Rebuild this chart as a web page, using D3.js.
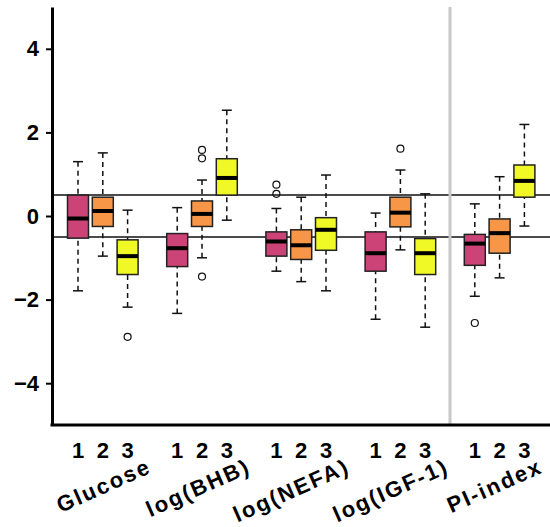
<!DOCTYPE html>
<html>
<head>
<meta charset="utf-8">
<script src="https://cdn.jsdelivr.net/npm/d3@7"></script>
<style>
  body { margin: 0; background: #fff; }
  text { font-family: "Liberation Sans", Arial, sans-serif; font-weight: bold; }
</style>
</head>
<body>
<svg class="canvas"></svg>
<script>
// group names and the 3 levels in each
var groups = ["Glucose", "log(BHB)", "log(NEFA)", "log(IGF-1)", "PI-index"];
var levels = ["1", "2", "3"];
// box position on the x axis (gaps between groups)
var positions = [1, 2, 3, 5, 6, 7, 9, 10, 11, 13, 14, 15, 17, 18, 19];

// stats, one value per box, in order of positions
var whiskerLow  = [-1.79, -0.96, -2.18, -2.33, -1.00, -0.10, -1.32, -1.57, -1.79, -2.47, -0.81, -2.66, -1.92, -1.48, -0.24];
var boxLow      = [-0.53, -0.25, -1.40, -1.21, -0.25,  0.50, -0.96, -1.04, -0.82, -1.32, -0.26, -1.40, -1.18, -0.89,  0.45];
var medians     = [-0.06,  0.12, -0.96, -0.77,  0.05,  0.91, -0.61, -0.70, -0.33, -0.89,  0.08, -0.89, -0.66, -0.41,  0.84];
var boxHigh     = [ 0.50,  0.45, -0.57, -0.42,  0.36,  1.37, -0.38, -0.33, -0.04, -0.38,  0.45, -0.54, -0.44, -0.07,  1.22];
var whiskerHigh = [ 1.30,  1.51,  0.14,  0.20,  0.86,  2.53,  0.18,  0.45,  0.98,  0.07,  1.10,  0.53,  0.29,  0.94,  2.19];
// outliers: [box index, value]
var outliers = [[2, -2.89], [4, 1.58], [4, 1.38], [4, -1.45], [6, 0.75], [6, 0.53], [10, 1.61], [12, -2.56]];

var refLines = [0.5, -0.5];
var yTicks = [-4, -2, 0, 2, 4];
var colors = ["#cc4477", "#f79646", "#f0f826"];

var width = 550, height = 527;

var svg = d3.select(".canvas").attr("width", width).attr("height", height);

var x = d3.scaleLinear().domain([1, 19]).range([78, 524.4]);
var y = d3.scaleLinear().domain([-5, 5]).range([425, 7]);
var left = 52;
var boxW = 21, capW = 10;

// reference lines
svg.selectAll(".ref")
  .data(refLines)
  .enter()
  .append("line")
  .attr("x1", left).attr("x2", width)
  .attr("y1", function(d) { return y(d); })
  .attr("y2", function(d) { return y(d); })
  .attr("stroke", "#111").attr("stroke-width", 1.5);

// grey divider before PI-index
svg.append("line")
  .attr("x1", x(16)).attr("x2", x(16))
  .attr("y1", y(5)).attr("y2", y(-5))
  .attr("stroke", "#c8c8c8").attr("stroke-width", 3);

var boxes = svg.selectAll(".box")
  .data(positions)
  .enter()
  .append("g")
  .attr("class", "box");

// dashed whiskers
boxes.append("line")
  .attr("x1", function(d) { return x(d); })
  .attr("x2", function(d) { return x(d); })
  .attr("y1", function(d, i) { return y(whiskerLow[i]); })
  .attr("y2", function(d, i) { return y(boxLow[i]); })
  .attr("stroke", "#111").attr("stroke-width", 1.5).attr("stroke-dasharray", "5,4");
boxes.append("line")
  .attr("x1", function(d) { return x(d); })
  .attr("x2", function(d) { return x(d); })
  .attr("y1", function(d, i) { return y(whiskerHigh[i]); })
  .attr("y2", function(d, i) { return y(boxHigh[i]); })
  .attr("stroke", "#111").attr("stroke-width", 1.5).attr("stroke-dasharray", "5,4");

// caps
boxes.append("line")
  .attr("x1", function(d) { return x(d) - capW / 2; })
  .attr("x2", function(d) { return x(d) + capW / 2; })
  .attr("y1", function(d, i) { return y(whiskerLow[i]); })
  .attr("y2", function(d, i) { return y(whiskerLow[i]); })
  .attr("stroke", "#111").attr("stroke-width", 1.5);
boxes.append("line")
  .attr("x1", function(d) { return x(d) - capW / 2; })
  .attr("x2", function(d) { return x(d) + capW / 2; })
  .attr("y1", function(d, i) { return y(whiskerHigh[i]); })
  .attr("y2", function(d, i) { return y(whiskerHigh[i]); })
  .attr("stroke", "#111").attr("stroke-width", 1.5);

boxes.append("rect")
  .attr("x", function(d) { return x(d) - boxW / 2; })
  .attr("width", boxW)
  .attr("y", function(d, i) { return y(boxHigh[i]); })
  .attr("height", function(d, i) { return y(boxLow[i]) - y(boxHigh[i]); })
  .attr("fill", function(d, i) { return colors[i % 3]; })
  .attr("stroke", "#222").attr("stroke-width", 1.5);

boxes.append("line")
  .attr("x1", function(d) { return x(d) - boxW / 2; })
  .attr("x2", function(d) { return x(d) + boxW / 2; })
  .attr("y1", function(d, i) { return y(medians[i]); })
  .attr("y2", function(d, i) { return y(medians[i]); })
  .attr("stroke", "#000").attr("stroke-width", 4);

svg.selectAll(".outlier")
  .data(outliers)
  .enter()
  .append("circle")
  .attr("cx", function(d) { return x(positions[d[0]]); })
  .attr("cy", function(d) { return y(d[1]); })
  .attr("r", 3.5)
  .attr("fill", "none").attr("stroke", "#111").attr("stroke-width", 1.2);

// y axis
var yAxis = d3.axisLeft(y).tickValues(yTicks).tickSize(6).tickSizeOuter(0).tickPadding(7);
var ya = svg.append("g")
  .attr("transform", "translate(" + left + ",0)")
  .call(yAxis);
ya.select(".domain").attr("stroke-width", 3);
ya.selectAll(".tick line").attr("stroke-width", 2);
ya.selectAll(".tick text").attr("font-size", 22).attr("font-family", null).attr("fill", "#000");

// x axis line
svg.append("line")
  .attr("x1", left - 1.5).attr("x2", width)
  .attr("y1", y(-5)).attr("y2", y(-5))
  .attr("stroke", "#000").attr("stroke-width", 3);

// level numbers under each box
svg.selectAll(".lvl")
  .data(positions)
  .enter()
  .append("text")
  .attr("x", function(d) { return x(d); })
  .attr("y", 458)
  .attr("text-anchor", "middle")
  .attr("font-size", 22)
  .text(function(d, i) { return levels[i % 3]; });

// rotated group names
svg.selectAll(".grp")
  .data(groups)
  .enter()
  .append("text")
  .attr("text-anchor", "end")
  .attr("font-size", 22)
  .attr("letter-spacing", 2)
  .attr("transform", function(d, i) {
    var cx = Math.min(x(positions[i * 3 + 1]) + 50, width - 6);
    return "translate(" + cx + ",472) rotate(-24)";
  })
  .text(function(d) { return d; });
</script>
</body>
</html>
